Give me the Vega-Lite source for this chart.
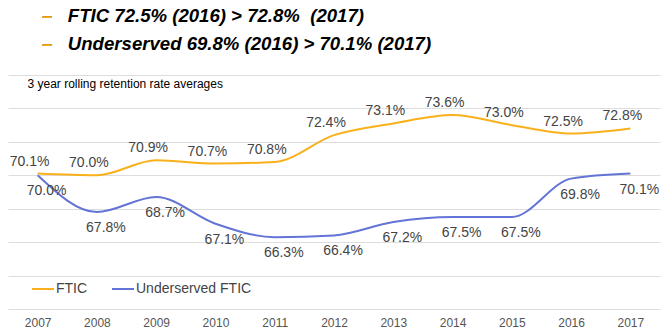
{
  "$schema": "https://vega.github.io/schema/vega-lite/v6.json",
  "width": 652,
  "height": 234,
  "padding": {"left": 8, "right": 7, "top": 6, "bottom": 4},
  "background": "white",
  "title": {
    "text": ["–\u00a0\u00a0\u00a0FTIC 72.5% (2016) > 72.8%\u00a0\u00a0(2017)", "–\u00a0\u00a0\u00a0Underserved 69.8% (2016) > 70.1% (2017)"],
    "subtitle": ["–", "–"],
    "anchor": "start",
    "frame": "group",
    "dx": 34,
    "baseline": "top",
    "font": "Liberation Sans",
    "fontSize": 18.6,
    "fontWeight": "bold",
    "fontStyle": "italic",
    "color": "#000000",
    "lineHeight": 28,
    "subtitleFont": "Liberation Sans",
    "subtitleFontSize": 18.6,
    "subtitleFontWeight": "bold",
    "subtitleFontStyle": "italic",
    "subtitleColor": "#F9B11B",
    "subtitleLineHeight": 28,
    "subtitlePadding": -46,
    "offset": 21
  },
  "config": {
    "view": {"stroke": null},
    "font": "Liberation Sans"
  },
  "data": {
    "values": [
      {"year": "2007", "series": "FTIC", "value": 0.701},
      {"year": "2008", "series": "FTIC", "value": 0.700},
      {"year": "2009", "series": "FTIC", "value": 0.709},
      {"year": "2010", "series": "FTIC", "value": 0.707},
      {"year": "2011", "series": "FTIC", "value": 0.708},
      {"year": "2012", "series": "FTIC", "value": 0.724},
      {"year": "2013", "series": "FTIC", "value": 0.731},
      {"year": "2014", "series": "FTIC", "value": 0.736},
      {"year": "2015", "series": "FTIC", "value": 0.730},
      {"year": "2016", "series": "FTIC", "value": 0.725},
      {"year": "2017", "series": "FTIC", "value": 0.728},
      {"year": "2007", "series": "Underserved FTIC", "value": 0.700},
      {"year": "2008", "series": "Underserved FTIC", "value": 0.678},
      {"year": "2009", "series": "Underserved FTIC", "value": 0.687},
      {"year": "2010", "series": "Underserved FTIC", "value": 0.671},
      {"year": "2011", "series": "Underserved FTIC", "value": 0.663},
      {"year": "2012", "series": "Underserved FTIC", "value": 0.664},
      {"year": "2013", "series": "Underserved FTIC", "value": 0.672},
      {"year": "2014", "series": "Underserved FTIC", "value": 0.675},
      {"year": "2015", "series": "Underserved FTIC", "value": 0.675},
      {"year": "2016", "series": "Underserved FTIC", "value": 0.698},
      {"year": "2017", "series": "Underserved FTIC", "value": 0.701}
    ]
  },
  "encoding": {
    "x": {
      "field": "year",
      "type": "ordinal",
      "scale": {"type": "point", "padding": 0.5},
      "axis": {
        "title": null,
        "labelAngle": 0,
        "domain": false,
        "ticks": false,
        "grid": false,
        "labelFontSize": 12,
        "labelColor": "#555555",
        "labelPadding": 8
      }
    },
    "y": {
      "field": "value",
      "type": "quantitative",
      "scale": {"domain": [0.62, 0.76], "nice": false, "zero": false},
      "axis": {
        "values": [0.62, 0.64, 0.66, 0.68, 0.70, 0.72, 0.74, 0.76],
        "labels": false,
        "ticks": false,
        "domain": false,
        "grid": true,
        "gridColor": "#dddddd",
        "gridWidth": 1,
        "title": "3 year rolling retention rate averages",
        "titleAngle": 0,
        "titleAlign": "left",
        "titleBaseline": "middle",
        "titleX": 19,
        "titleY": 8,
        "titleFontSize": 12,
        "titleFontWeight": "normal",
        "titleColor": "#000000"
      }
    }
  },
  "layer": [
    {
      "mark": {"type": "line", "interpolate": "monotone", "strokeWidth": 2},
      "encoding": {
        "color": {
          "field": "series",
          "type": "nominal",
          "scale": {"domain": ["FTIC", "Underserved FTIC"], "range": ["#F9B11B", "#6474D6"]},
          "legend": {
            "title": null,
            "orient": "none",
            "direction": "horizontal",
            "legendX": 23,
            "legendY": 202,
            "symbolType": "stroke",
            "symbolSize": 484,
            "symbolStrokeWidth": 2,
            "labelFontSize": 14,
            "labelColor": "#444444",
            "labelOffset": 1,
            "columnPadding": 20
          }
        }
      }
    },
    {
      "transform": [{"filter": "datum.series === 'FTIC'"}],
      "mark": {"type": "text", "dy": -12, "dx": -8, "fontSize": 14, "color": "#444444"},
      "encoding": {"text": {"field": "value", "type": "quantitative", "format": ".1%"}}
    },
    {
      "transform": [{"filter": "datum.series === 'Underserved FTIC'"}],
      "mark": {"type": "text", "dy": 16, "dx": 9, "fontSize": 14, "color": "#444444"},
      "encoding": {"text": {"field": "value", "type": "quantitative", "format": ".1%"}}
    }
  ]
}
